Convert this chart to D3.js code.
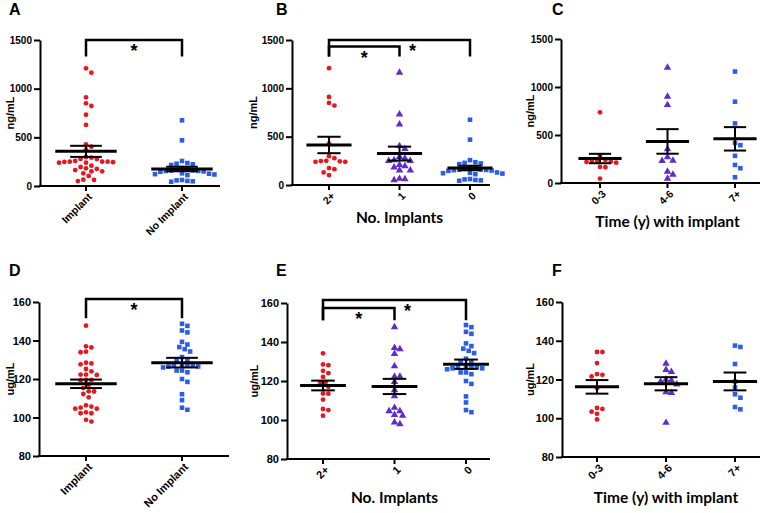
<!DOCTYPE html>
<html><head><meta charset="utf-8">
<script src="https://cdn.jsdelivr.net/npm/d3@7"></script>
<style>body{margin:0;background:#fff}svg{display:block}</style>
</head><body><svg id="c" width="773" height="513"></svg>
<script>
// ---------- data ----------
const ngTwoPlus = [1209, 911, 849, 822, 428, 298, 278, 250, 247, 245, 240, 240, 175, 164, 130, 103];
const ngOne = [1164, 732, 627, 404, 373, 291, 277, 257, 250, 250, 209, 195, 182, 151, 151, 65, 62, 51];
const ngImplant = [1209, 911, 849, 822, 428, 298, 278, 250, 247, 245, 240, 240, 175, 164, 130, 103,
  1164, 732, 627, 404, 373, 291, 277, 257, 250, 250, 209, 195, 182, 151, 151, 65, 62, 51];
const ngNoImplant = [675, 469, 257, 236, 229, 223, 216, 185, 172, 166, 160, 158, 156, 154, 150, 147,
  130, 126, 122, 118, 112, 62, 58, 52, 48, 44];
const ngT03 = [736, 283, 240, 232, 228, 225, 220, 212, 167, 164, 46];
const ngT46 = [1203, 900, 813, 353, 269, 234, 230, 119, 88, 46];
const ngT7 = [1161, 847, 621, 418, 394, 283, 188, 154, 60];

const ugTwoPlus = [134.2, 128.5, 128.1, 125.2, 124, 122.1, 119.5, 119.3, 117, 113.6, 113.5, 110.5, 105.7, 105.1, 102.2];
const ugOne = [147.7, 137, 136.4, 133.9, 127.6, 122.3, 122.3, 119.5, 115.3, 112.2, 106.3, 104.6, 104.6, 102.7, 102.2, 98.8, 97.9];
const ugImplant = [134.2, 128.5, 128.1, 125.2, 124, 122.1, 119.5, 119.3, 117, 113.6, 113.5, 110.5, 105.7, 105.1, 102.2,
  147.7, 137, 136.4, 133.9, 127.6, 122.3, 122.3, 119.5, 115.3, 112.2, 106.3, 104.6, 104.6, 102.7, 102.2, 98.8, 97.9];
const ugNoImplant = [148.7, 147.6, 145.2, 144.2, 139.3, 137.9, 136.6, 135.5, 134.3, 131.4, 130, 129.6, 127.5, 127, 127,
  126.5, 126.5, 127, 126, 124.4, 124.4, 123.5, 120, 118.5, 112.1, 109, 105.1, 104];
const ugT03 = [134.2, 134.2, 128.5, 122.8, 122.4, 121.6, 115.5, 105.3, 104.8, 103.4, 102.3, 99.4];
const ugT46 = [128.2, 125, 124, 120, 119.5, 119, 117.5, 113.5, 113.1, 97.7];
const ugT7 = [137.5, 136.8, 128, 119, 116, 112.4, 110.6, 105.8, 104.6];

// mean and SEM as drawn
const meanA = [356, 175], semA = [57, 23];
const meanB = [414, 325, 176], semB = [85, 72, 23];
const meanC = [255, 433, 460], semC = [49, 128, 122];
const meanD = [117.5, 128.5], semD = [2.2, 2.5];
const meanE = [117.7, 117.2, 128.6], semE = [2.5, 3.9, 2.4];
const meanF = [116.2, 117.8, 119.0], semF = [3.5, 3.4, 4.6];

const catsImplant = ["Implant", "No Implant"];
const catsNumber = ["2+", "1", "0"];
const catsTime = ["0-3", "4-6", "7+"];
const ticksNg = [0, 500, 1000, 1500];
const ticksUg = [80, 100, 120, 140, 160];

// ---------- styling ----------
const RED = "#e8161d", PURPLE = "#5f2ec8", BLUE = "#2c5de6";
const svg = d3.select("#c");
const TICKFONT = "'Liberation Sans', Arial, sans-serif";
const TITLEFONT = "Lato, 'Open Sans', sans-serif";

const panels = [
  {L:"A", lx:9, ly:15, x0:40, x1:220, yTop:40, yBot:186, dom:[0,1500], ticks:ticksNg, cats:catsImplant, cr:[86,182],
   groups:[ngImplant, ngNoImplant], shapes:["circle","square"], cols:[RED,BLUE], mean:meanA, sem:semA,
   yt:"ng/mL", ytx:14, xt:null, tf:10, lf:10.5,
   br:[{a:0,b:1,top:1500,end:1330,sx:null}]},
  {L:"B", lx:276, ly:15, x0:292, x1:490, yTop:40, yBot:185, dom:[0,1500], ticks:ticksNg, cats:catsNumber, cr:[329,470],
   groups:[ngTwoPlus, ngOne, ngNoImplant], shapes:["circle","triangle","square"], cols:[RED,PURPLE,BLUE], mean:meanB, sem:semB,
   yt:"ng/mL", ytx:257, xt:"No. Implants", xty:223, tf:10, lf:10.5,
   br:[{a:0,b:2,top:1500,end:1330,outer:true},{a:0,b:1,top:1432,end:1330}]},
  {L:"C", lx:552, ly:15, x0:561, x1:760, yTop:39, yBot:183, dom:[0,1500], ticks:ticksNg, cats:catsTime, cr:[600,735],
   groups:[ngT03, ngT46, ngT7], shapes:["circle","triangle","square"], cols:[RED,PURPLE,BLUE], mean:meanC, sem:semC,
   yt:"ng/mL", ytx:534, xt:"Time (y) with implant", xty:227, tf:10, lf:10.5, br:[]},
  {L:"D", lx:9, ly:276, x0:39, x1:229, yTop:302, yBot:456, dom:[80,160], ticks:ticksUg, cats:catsImplant, cr:[86,182],
   groups:[ugImplant, ugNoImplant], shapes:["circle","square"], cols:[RED,BLUE], mean:meanD, sem:semD,
   yt:"ug/mL", ytx:14, xt:null, tf:11, lf:11,
   br:[{a:0,b:1,top:161.5,end:151.5}]},
  {L:"E", lx:276, ly:276, x0:287, x1:490, yTop:303, yBot:459, dom:[80,160], ticks:ticksUg, cats:catsNumber, cr:[323,466],
   groups:[ugTwoPlus, ugOne, ugNoImplant], shapes:["circle","triangle","square"], cols:[RED,PURPLE,BLUE], mean:meanE, sem:semE,
   yt:"ug/mL", ytx:258, xt:"No. Implants", xty:503, tf:11, lf:11,
   br:[{a:0,b:2,top:161.5,end:151.2,outer:true},{a:0,b:1,top:157.4,end:151.2}]},
  {L:"F", lx:552, ly:276, x0:562, x1:760, yTop:302, yBot:457, dom:[80,160], ticks:ticksUg, cats:catsTime, cr:[597,735],
   groups:[ugT03, ugT46, ugT7], shapes:["circle","triangle","square"], cols:[RED,PURPLE,BLUE], mean:meanF, sem:semF,
   yt:"ug/mL", ytx:534, xt:"Time (y) with implant", xty:503, tf:11, lf:11, br:[]}
];

function swarm(vals, y, cx, s) {
  const pts = vals.map(v => ({v, py: y(v)})).sort((a, b) => a.py - b.py);
  const placed = [];
  for (const p of pts) {
    for (let k = 0; k < 400; k++) {
      const off = k === 0 ? 0 : (k % 2 === 1 ? 1 : -1) * Math.ceil(k / 2) * s / 2;
      const x = cx + off;
      if (placed.every(q => (q.x - x) ** 2 + (q.py - p.py) ** 2 >= s * s * 0.97)) { p.x = x; placed.push(p); break; }
    }
  }
  return placed;
}

panels.forEach(P => {
  const g = svg.append("g");
  const y = d3.scaleLinear().domain(P.dom).range([P.yBot, P.yTop]);
  const x = d3.scalePoint().domain(P.cats).range(P.cr);
  const step = (P.cr[1] - P.cr[0]) / (P.cats.length - 1);

  // panel letter
  g.append("text").attr("x", P.lx).attr("y", P.ly).text(P.L)
    .attr("font-family", TICKFONT).attr("font-weight", "bold").attr("font-size", 16);

  // y axis
  const ya = g.append("g").attr("transform", `translate(${P.x0},0)`)
    .call(d3.axisLeft(y).tickValues(P.ticks).tickFormat(d3.format("d")).tickSize(6).tickSizeOuter(0).tickPadding(2));
  ya.select(".domain").attr("stroke-width", 2).attr("stroke", "#000");
  ya.selectAll(".tick line").attr("stroke-width", 2);
  ya.selectAll(".tick text").attr("font-family", TICKFONT).attr("font-weight", "bold")
    .attr("font-size", P.tf).attr("fill", "#000");

  // x axis
  g.append("line").attr("x1", P.x0 - 1).attr("x2", P.x1).attr("y1", P.yBot).attr("y2", P.yBot)
    .attr("stroke", "#000").attr("stroke-width", 2);
  P.cats.forEach(c => {
    g.append("line").attr("x1", x(c)).attr("x2", x(c)).attr("y1", P.yBot).attr("y2", P.yBot + 5)
      .attr("stroke", "#000").attr("stroke-width", 2);
    g.append("text").text(c)
      .attr("transform", `translate(${x(c) + 4},${P.yBot + 9}) rotate(-45)`)
      .attr("text-anchor", "end").attr("dy", "0.35em")
      .attr("font-family", TICKFONT).attr("font-weight", "bold").attr("font-size", P.lf).attr("fill", "#000");
  });

  // titles
  g.append("text").text(P.yt)
    .attr("transform", `translate(${P.ytx},${(P.yTop + P.yBot) / 2}) rotate(-90)`)
    .attr("text-anchor", "middle")
    .attr("font-family", TICKFONT).attr("font-weight", "bold").attr("font-size", 11);
  if (P.xt) {
    g.append("text").text(P.xt).attr("x", (P.cr[0] + P.cr[1]) / 2).attr("y", P.xty)
      .attr("text-anchor", "middle")
      .attr("font-family", TITLEFONT).attr("font-weight", "bold").attr("font-size", 15.5);
  }

  // points
  P.groups.forEach((vals, i) => {
    const cx = x(P.cats[i]);
    const pts = swarm(vals, y, cx, 5.4);
    const shape = P.shapes[i], col = P.cols[i];
    if (shape === "circle") {
      g.selectAll(null).data(pts).enter().append("circle")
        .attr("cx", d => d.x).attr("cy", d => d.py).attr("r", 2.4).attr("fill", col);
    } else {
      const sym = d3.symbol().type(shape === "square" ? d3.symbolSquare : d3.symbolTriangle)
        .size(shape === "square" ? 21 : 24);
      g.selectAll(null).data(pts).enter().append("path")
        .attr("d", sym).attr("transform", d => `translate(${d.x},${d.py})`).attr("fill", col);
    }
  });

  // mean and SEM
  P.cats.forEach((c, i) => {
    const cx = x(c), m = P.mean[i], s = P.sem[i];
    const hw = step * 0.32, cw = step * 0.165;
    g.append("line").attr("x1", cx - hw).attr("x2", cx + hw).attr("y1", y(m)).attr("y2", y(m))
      .attr("stroke", "#000").attr("stroke-width", 3);
    g.append("line").attr("x1", cx).attr("x2", cx).attr("y1", y(m + s)).attr("y2", y(m - s))
      .attr("stroke", "#000").attr("stroke-width", 2);
    [m + s, m - s].forEach(v => g.append("line").attr("x1", cx - cw).attr("x2", cx + cw)
      .attr("y1", y(v)).attr("y2", y(v)).attr("stroke", "#000").attr("stroke-width", 2));
  });

  // significance brackets
  const inner = P.br.find(b => !b.outer);
  P.br.forEach(b => {
    const xa = x(P.cats[b.a]), xb = x(P.cats[b.b]);
    g.append("path").attr("d", `M${xa},${y(b.end)}V${y(b.top)}H${xb}V${y(b.end)}`)
      .attr("fill", "none").attr("stroke", "#000").attr("stroke-width", 2.5);
    let sx = (xa + xb) / 2;
    if (b.outer && inner) sx = x(P.cats[inner.b]) + 13;
    g.append("text").text("*").attr("x", sx).attr("y", y(b.top) + 17)
      .attr("text-anchor", "middle")
      .attr("font-family", TICKFONT).attr("font-weight", "bold").attr("font-size", 18);
  });
});
</script></body></html>
